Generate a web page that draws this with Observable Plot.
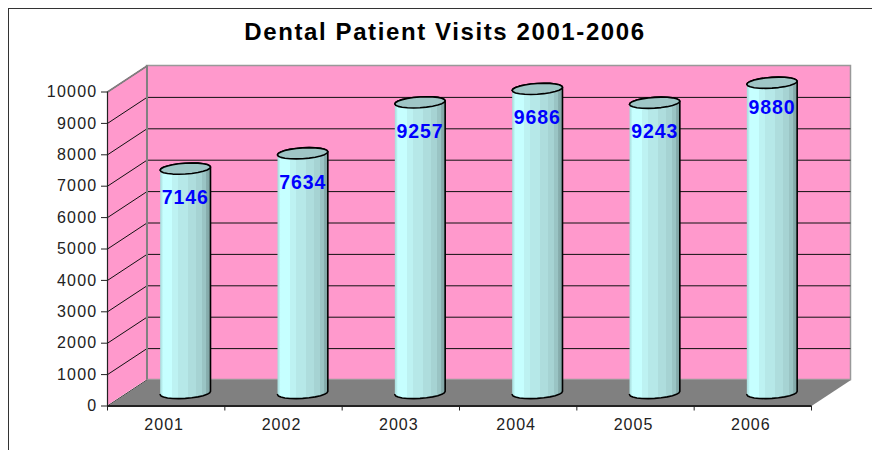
<!DOCTYPE html>
<html>
<head>
<meta charset="utf-8">
<script src="https://cdn.jsdelivr.net/npm/d3@7"></script>
<script src="https://cdn.jsdelivr.net/npm/@observablehq/plot@0.6"></script>
<style>
  html, body { margin: 0; padding: 0; background: #fff; overflow: hidden; }
  body { width: 872px; height: 450px; position: relative; font-family: "Liberation Sans", Arial, sans-serif; }
  #frame { position: absolute; left: 8px; top: 8px; right: 0; bottom: 0; border-left: 1.5px solid #333; border-top: 1.5px solid #333; }
  #title { position: relative; height: 48px; line-height: 63px; box-sizing: border-box; width: 890px; text-align: center; font-size: 24px; font-weight: bold; color: #000; letter-spacing: 1.6px; white-space: nowrap; }
  #chart { position: relative; height: 402px; }
  #chart svg { display: block; overflow: visible; background: transparent; }
  .y-label text, text.y-label { letter-spacing: 1.25px; }
  .x-label text, text.x-label { letter-spacing: 1px; }
  .value-label text { letter-spacing: 0.9px; }
</style>
</head>
<body>
<div id="frame"></div>
<div id="title">Dental Patient Visits 2001-2006</div>
<div id="chart"></div>
<script>
const years = ["2001", "2002", "2003", "2004", "2005", "2006"];
const visits = [7146, 7634, 9257, 9686, 9243, 9880];
const yTicks = d3.range(0, 10001, 1000);
const xBoundaries = [0, 1, 2, 3, 4, 5, 6];
const xCentres = [0.5, 1.5, 2.5, 3.5, 4.5, 5.5];

// Pseudo-3D depth, in data units of the two scales
const depthX = 0.3366, depthY = 828;
const radiusX = 0.2145, radiusY = 172, tiltY = 50;

const ellipsePoint = (cx, cy, t) => ({
  x: cx + radiusX * Math.cos(t),
  y: cy + radiusY * Math.sin(t) + tiltY * Math.cos(t)
});

const table = years.map((year, i) => ({
  year, value: visits[i],
  cx: xCentres[i] + depthX / 2 - 0.005,
  top: visits[i] + depthY / 2,
  base: depthY / 2
}));

const arcAngles = d3.range(0, 25).map(k => k * Math.PI / 12);
const halfAngles = d3.range(0, 13).map(k => k * Math.PI / 12);

const bodies = table.flatMap(d => [
  ...halfAngles.map(t => ({ year: d.year, ...ellipsePoint(d.cx, d.base, Math.PI + t) })),
  ...halfAngles.map(t => ({ year: d.year, ...ellipsePoint(d.cx, d.top, t) }))
]);
const caps = table.flatMap(d =>
  arcAngles.map(t => ({ year: d.year, ...ellipsePoint(d.cx, d.top, t) })));

const sideWall = [
  { x: 0, y1: 0, y2: 10000 },
  { x: depthX, y1: depthY, y2: 10000 + depthY }
];
const floor = [
  { x: 0, y: 0 }, { x: 6, y: 0 }, { x: 6 + depthX, y: depthY }, { x: depthX, y: depthY }
];
const sideEdge = [{ x: 0, y: 10000 }, { x: depthX, y: 10000 + depthY }];

// Stepped shading across the cylinder
const bandStops = [
  [0, "#a9dcdc"], [3, "#b4eaea"], [6, "#c6ffff"], [24, "#c6ffff"], [24, "#bdf2f2"], [36, "#bdf2f2"],
  [36, "#b6e8e8"], [56, "#b6e8e8"], [56, "#aedddd"], [72, "#aedddd"], [72, "#a6d3d3"], [84, "#a6d3d3"],
  [84, "#9ac4c4"], [92, "#9ac4c4"], [92, "#88aeae"], [100, "#7fa3a3"]
];

function gradientDefs() {
  const ns = "http://www.w3.org/2000/svg";
  const defs = document.createElementNS(ns, "defs");
  const g = document.createElementNS(ns, "linearGradient");
  g.setAttribute("id", "cyl");
  g.setAttribute("x1", "0"); g.setAttribute("x2", "1"); g.setAttribute("y1", "0"); g.setAttribute("y2", "0");
  for (const [o, c] of bandStops) {
    const s = document.createElementNS(ns, "stop");
    s.setAttribute("offset", o + "%");
    s.setAttribute("stop-color", c);
    g.appendChild(s);
  }
  defs.appendChild(g);
  return defs;
}

const labelStyle = { text: d => String(d.value), x: "cx", y: "top", fontSize: 19.5, fontWeight: "bold", fill: "#0000ff", className: "value-label" };
const highest = d3.max(visits);

const chart = Plot.plot({
  width: 872,
  height: 402,
  marginLeft: 107,
  marginRight: 61,
  marginTop: 43.5,
  marginBottom: 44.5,
  style: { background: "transparent", fontFamily: "'Liberation Sans', Arial, sans-serif" },
  x: { type: "linear", domain: [0, 6] },
  y: { type: "linear", domain: [0, 10000] },
  marks: [
    gradientDefs,
    // back wall
    Plot.rect([0], { x1: depthX, x2: 6 + depthX, y1: depthY, y2: 10000 + depthY, fill: "#ff99cc", stroke: "#999", strokeWidth: 1.5 }),
    // side wall
    Plot.areaY(sideWall, { x: "x", y1: "y1", y2: "y2", fill: "#ff99cc", curve: "linear" }),
    // gridlines
    Plot.ruleY(yTicks.slice(1, -1), { y: d => d + depthY, x1: depthX, x2: 6 + depthX, stroke: "#111", strokeWidth: 1 }),
    Plot.link(yTicks.slice(0), { x1: 0, x2: depthX, y1: d => d, y2: d => d + depthY, stroke: "#111", strokeWidth: 1 }),
    // floor
    Plot.line(floor, { x: "x", y: "y", fill: "#808080", stroke: "none", curve: "linear" }),
    Plot.line(sideEdge, { x: "x", y: "y", stroke: "#808080", strokeWidth: 1.5 }),
    Plot.ruleX([depthX], { y1: depthY, y2: 10000 + depthY, stroke: "#808080", strokeWidth: 2 }),
    // axes
    Plot.ruleX([0], { y1: 0, y2: 10000, stroke: "#222", strokeWidth: 1.2 }),
    Plot.ruleY([0], { x1: 0, x2: 6, stroke: "#222", strokeWidth: 2 }),
    Plot.axisY({ ticks: yTicks, tickSize: 6, tickPadding: 4, fontSize: 16, stroke: "#222", fill: "#222", label: null, tickFormat: d => String(d), className: "y-label" }),
    Plot.axisX({ ticks: xBoundaries, tickSize: 5, tickFormat: () => "", stroke: "#222", label: null }),
    Plot.axisX({ ticks: xCentres, tickSize: 0, tickPadding: 13, dx: -2, fontSize: 16, fill: "#222", label: null, tickFormat: d => years[d - 0.5], className: "x-label" }),
    // cylinders
    Plot.line(bodies, { x: "x", y: "y", z: "year", fill: "url(#cyl)", stroke: "#000", strokeWidth: 1.6, curve: "linear" }),
    Plot.line(caps, { x: "x", y: "y", z: "year", fill: "#9fc6c6", stroke: "#000", strokeWidth: 1.6, curve: "linear" }),
    // value labels
    Plot.text(table.filter(d => d.value !== highest), { ...labelStyle, dy: 29 }),
    Plot.text(table.filter(d => d.value === highest), { ...labelStyle, dy: 25 })
  ]
});
document.getElementById("chart").appendChild(chart);
</script>
</body>
</html>
